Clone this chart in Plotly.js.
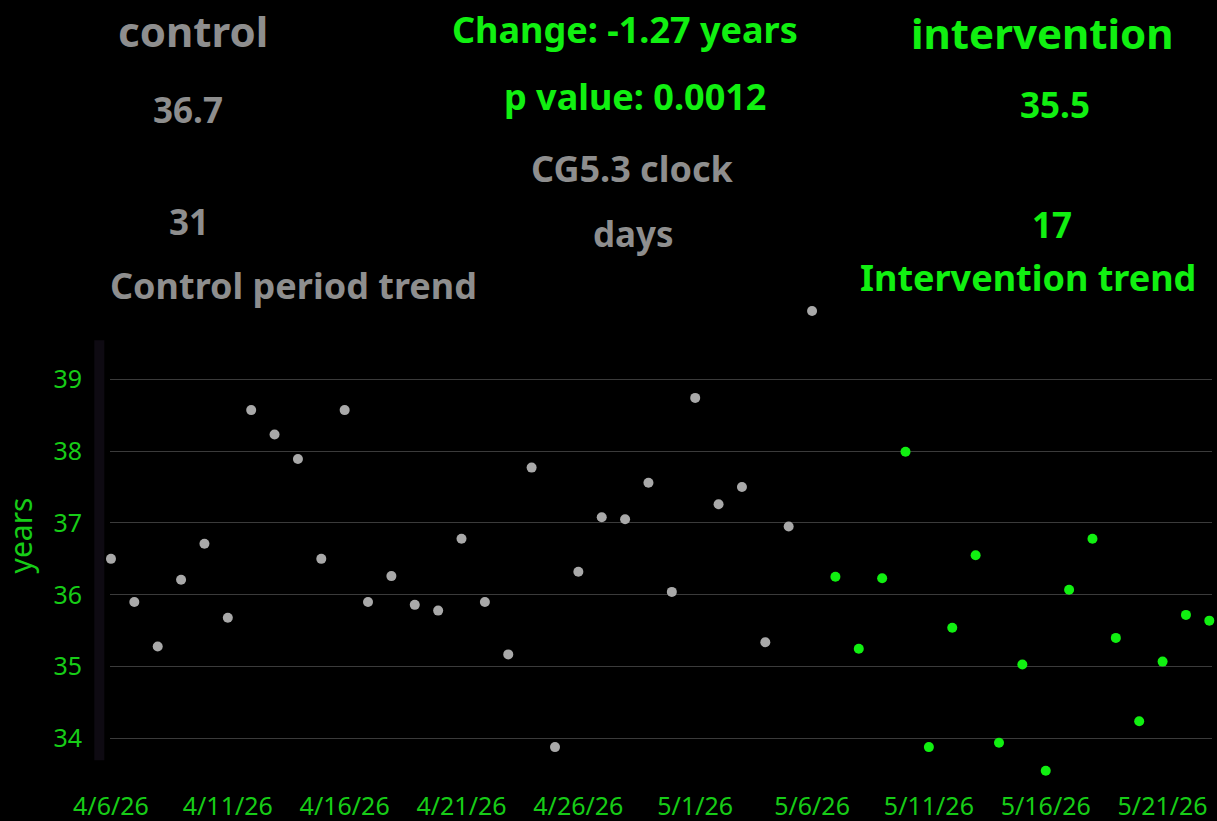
<!DOCTYPE html>
<html>
<head>
<meta charset="utf-8">
<script src="https://cdn.plot.ly/plotly-3.0.1.min.js"></script>
<style>html,body{margin:0;padding:0;background:#000;}#chart{width:1217px;height:821px;}</style>
</head>
<body>
<div id="chart"></div>
<script>
// ---- data ----
const controlDates = ['2026-04-06','2026-04-07','2026-04-08','2026-04-09','2026-04-10','2026-04-11','2026-04-12','2026-04-13','2026-04-14','2026-04-15','2026-04-16','2026-04-17','2026-04-18','2026-04-19','2026-04-20','2026-04-21','2026-04-22','2026-04-23','2026-04-24','2026-04-25','2026-04-26','2026-04-27','2026-04-28','2026-04-29','2026-04-30','2026-05-01','2026-05-02','2026-05-03','2026-05-04','2026-05-05','2026-05-06'];
const controlValues = [36.50,35.90,35.28,36.21,36.71,35.68,38.57,38.23,37.89,36.50,38.57,35.90,36.26,35.86,35.78,36.78,35.90,35.17,37.77,33.88,36.32,37.08,37.05,37.56,36.04,38.74,37.26,37.50,35.34,36.95,39.95];
const interventionDates = ['2026-05-07','2026-05-08','2026-05-09','2026-05-10','2026-05-11','2026-05-12','2026-05-13','2026-05-14','2026-05-15','2026-05-16','2026-05-17','2026-05-18','2026-05-19','2026-05-20','2026-05-21','2026-05-22','2026-05-23'];
const interventionValues = [36.25,35.25,36.23,37.99,33.88,35.54,36.55,33.94,35.03,33.55,36.07,36.78,35.40,34.24,35.07,35.72,35.64];

const headerLabels = {
  controlTitle: 'control', controlMean: '36.7', controlDays: '31', controlTrend: 'Control period trend',
  change: 'Change: -1.27 years', pValue: 'p value: 0.0012', clock: 'CG5.3 clock', daysLabel: 'days',
  interventionTitle: 'intervention', interventionMean: '35.5', interventionDays: '17', interventionTrend: 'Intervention trend'
};
const yAxisTitle = 'years';

// ---- style ----
const GRAY_TEXT = '#8e8e8e';
const GRAY_DOT = '#a9a9a9';
const GREEN = '#11f011';
const GREEN_TICK = '#17cc17';
const FONT = 'Noto Sans, Open Sans, sans-serif';

const W = 1217, H = 821;
const Y_RANGE = [33.45, 40.2];
const M = {l: 110, r: 5, t: 292.8, b: 43.2};
const pw = W - M.l - M.r, ph = H - M.t - M.b;
const px = x => (x - M.l) / pw;
const py = y => (H - M.b - y) / ph;

function ann(text, x, y, size, color) {
  return {text: text, x: px(x), y: py(y), xref: 'paper', yref: 'paper',
    xanchor: 'center', yanchor: 'middle', showarrow: false,
    font: {family: FONT, size: size, color: color, weight: 700}};
}

const traces = [
  {x: controlDates, y: controlValues, type: 'scatter', mode: 'markers', cliponaxis: false,
   marker: {size: 10, color: GRAY_DOT}, hoverinfo: 'x+y', name: 'control'},
  {x: interventionDates, y: interventionValues, type: 'scatter', mode: 'markers', cliponaxis: false,
   marker: {size: 10, color: GREEN}, hoverinfo: 'x+y', name: 'intervention'}
];

const layout = {
  width: W, height: H,
  paper_bgcolor: '#000', plot_bgcolor: '#000',
  margin: M,
  showlegend: false,
  font: {family: FONT},
  xaxis: {
    type: 'date',
    range: ['2026-04-05 23:00', '2026-05-23 02:45'],
    tick0: '2026-04-06', dtick: 5 * 86400000,
    tickformat: '%-m/%-d/%y',
    showgrid: false, zeroline: false, showline: false,
    ticks: 'outside', ticklen: 6, tickcolor: 'rgba(0,0,0,0)',
    tickfont: {family: FONT, size: 25, color: GREEN_TICK}
  },
  yaxis: {
    range: Y_RANGE,
    tickvals: [34, 35, 36, 37, 38, 39],
    showgrid: true, gridcolor: '#3b3b3b', gridwidth: 1,
    zeroline: false, showline: false,
    ticks: 'outside', ticklen: 22, tickcolor: 'rgba(0,0,0,0)',
    tickfont: {family: FONT, size: 25, color: GREEN_TICK},
    title: {text: yAxisTitle, font: {family: FONT, size: 30, color: GREEN_TICK}, standoff: 12}
  },
  shapes: [
    {type: 'rect', xref: 'paper', yref: 'y', x0: px(94.3), x1: px(104.3), y0: 33.698, y1: 39.543,
     fillcolor: '#0e0a12', line: {width: 0}, layer: 'below'}
  ],
  annotations: [
    ann(headerLabels.controlTitle, 193, 30, 42, GRAY_TEXT),
    ann(headerLabels.controlMean, 188, 109, 35, GRAY_TEXT),
    ann(headerLabels.controlDays, 189, 221, 35, GRAY_TEXT),
    ann(headerLabels.controlTrend, 293, 285, 36, GRAY_TEXT),
    ann(headerLabels.change, 625, 29, 36, GREEN),
    ann(headerLabels.pValue, 635, 96, 36, GREEN),
    ann(headerLabels.clock, 632, 168, 36, GRAY_TEXT),
    ann(headerLabels.daysLabel, 633, 233, 35, GRAY_TEXT),
    ann(headerLabels.interventionTitle, 1042, 32, 42, GREEN),
    ann(headerLabels.interventionMean, 1055, 104, 35, GREEN),
    ann(headerLabels.interventionDays, 1052, 224, 35, GREEN),
    ann(headerLabels.interventionTrend, 1028, 277, 36, GREEN)
  ]
};

Plotly.newPlot('chart', traces, layout, {displayModeBar: false, staticPlot: true});
</script>
</body>
</html>
